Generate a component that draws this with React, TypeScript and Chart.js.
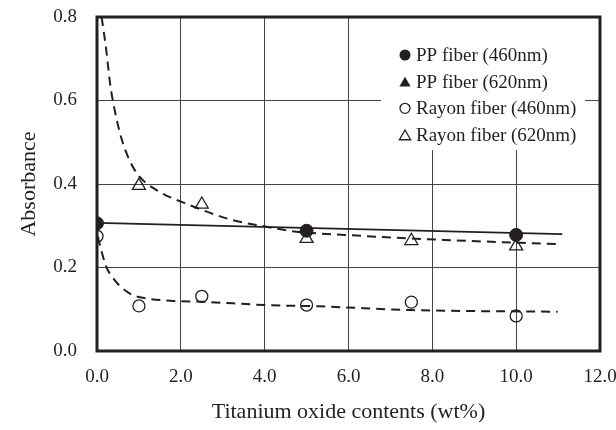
import React, { useEffect, useRef } from 'react';
import { Chart, registerables } from 'chart.js';

Chart.register(...registerables);

// ---- data ----
const ppX = [0, 5, 10];
const pp460 = [0.306, 0.288, 0.278];
const pp620 = [0.303, 0.285, 0.275];

const rayonX460 = [0, 1, 2.5, 5, 7.5, 10];
const rayon460 = [0.275, 0.108, 0.131, 0.11, 0.117, 0.084];

const rayonX620 = [1, 2.5, 5, 7.5, 10];
const rayon620 = [0.396, 0.351, 0.269, 0.264, 0.251];

// fitted trend curves
const fitPPX = [0, 11.1];
const fitPP = [0.307, 0.28];

const fitRayon460X = [0.02, 0.1, 0.22, 0.42, 0.61, 0.85, 1.17, 1.8, 2.51, 4.02, 5.3, 7.5, 10.99];
const fitRayon460 = [0.274, 0.242, 0.202, 0.17, 0.15, 0.134, 0.126, 0.12, 0.118, 0.11, 0.107, 0.098, 0.094];

const fitRayon620X = [0.11, 0.22, 0.31, 0.42, 0.57, 0.77, 1.01, 1.41, 2.2, 3.22, 4.02, 4.65, 5.92, 8.29, 11.03];
const fitRayon620 = [0.8, 0.722, 0.642, 0.578, 0.514, 0.458, 0.418, 0.386, 0.35, 0.314, 0.298, 0.287, 0.278, 0.266, 0.256];

const seriesLabels = ['PP fiber (460nm)', 'PP fiber (620nm)', 'Rayon fiber (460nm)', 'Rayon fiber (620nm)'];
const xTitle = 'Titanium oxide contents (wt%)';
const yTitle = 'Absorbance';
const xMin = 0, xMax = 12, xStep = 2;
const yMin = 0, yMax = 0.8, yStep = 0.2;

const INK = '#231f20';
const FONT = "'Liberation Serif', 'Times New Roman', serif";

const pts = (xs: number[], ys: number[]) => xs.map((x, i) => ({ x, y: ys[i] }));

function drawMarker(ctx: CanvasRenderingContext2D, style: string, filled: boolean, x: number, y: number, r: number) {
  ctx.beginPath();
  if (style === 'circle') {
    ctx.arc(x, y, r, 0, Math.PI * 2);
  } else {
    ctx.moveTo(x, y - r);
    ctx.lineTo(x + r * 0.866, y + r * 0.5);
    ctx.lineTo(x - r * 0.866, y + r * 0.5);
    ctx.closePath();
  }
  if (filled) {
    ctx.fillStyle = INK;
    ctx.fill();
  } else {
    ctx.lineWidth = 1.3;
    ctx.strokeStyle = INK;
    ctx.stroke();
  }
}

const frameAndLegend = {
  id: 'frameAndLegend',
  afterDatasetsDraw(chart: any) {
    const ctx: CanvasRenderingContext2D = chart.ctx;
    const a = chart.chartArea;
    ctx.save();
    // legend box (white, hides the grid behind it)
    ctx.fillStyle = '#ffffff';
    ctx.fillRect(381, a.top + 1, 204, 132);
    const rows = [55, 81.7, 108.3, 135];
    const styles = [
      { s: 'circle', f: true, r: 5.5 },
      { s: 'triangle', f: true, r: 6.5 },
      { s: 'circle', f: false, r: 5 },
      { s: 'triangle', f: false, r: 6.5 },
    ];
    ctx.font = `19px ${FONT}`;
    ctx.textBaseline = 'middle';
    ctx.textAlign = 'left';
    rows.forEach((y, i) => {
      const st = styles[i];
      drawMarker(ctx, st.s, st.f, 405, y + (st.s === 'triangle' ? 1.5 : 0), st.r);
      ctx.fillStyle = INK;
      ctx.fillText(seriesLabels[i], 416, y + 1);
    });
    // frame
    ctx.strokeStyle = INK;
    ctx.lineWidth = 3;
    ctx.strokeRect(a.left, a.top, a.right - a.left, a.bottom - a.top);
    ctx.restore();
  },
};

export default function App() {
  const ref = useRef<HTMLCanvasElement | null>(null);
  useEffect(() => {
    if (!ref.current) return;
    const chart = new Chart(ref.current, {
      type: 'scatter',
      data: {
        datasets: [
          {
            label: seriesLabels[0],
            data: pts(ppX, pp460),
            pointStyle: 'circle',
            pointRadius: 6.5,
            backgroundColor: INK,
            borderColor: INK,
            borderWidth: 1,
          },
          {
            label: seriesLabels[1],
            data: pts(ppX, pp620),
            pointStyle: 'triangle',
            pointRadius: 5.5,
            backgroundColor: INK,
            borderColor: INK,
            borderWidth: 1,
          },
          {
            label: seriesLabels[2],
            data: pts(rayonX460, rayon460),
            pointStyle: 'circle',
            pointRadius: 6,
            backgroundColor: 'rgba(0,0,0,0)',
            borderColor: INK,
            borderWidth: 1.3,
          },
          {
            label: seriesLabels[3],
            data: pts(rayonX620, rayon620),
            pointStyle: 'triangle',
            pointRadius: 7.5,
            backgroundColor: 'rgba(0,0,0,0)',
            borderColor: INK,
            borderWidth: 1.3,
          },
          {
            label: 'fit PP',
            data: pts(fitPPX, fitPP),
            showLine: true,
            pointRadius: 0,
            borderColor: INK,
            borderWidth: 1.8,
          },
          {
            label: 'fit Rayon 460',
            data: pts(fitRayon460X, fitRayon460),
            showLine: true,
            pointRadius: 0,
            borderColor: INK,
            borderWidth: 2,
            borderDash: [9, 6],
            cubicInterpolationMode: 'monotone',
          },
          {
            label: 'fit Rayon 620',
            data: pts(fitRayon620X, fitRayon620),
            showLine: true,
            pointRadius: 0,
            borderColor: INK,
            borderWidth: 2,
            borderDash: [9, 6],
            cubicInterpolationMode: 'monotone',
          },
        ] as any,
      },
      options: {
        animation: false,
        responsive: false,
        maintainAspectRatio: false,
        layout: { padding: { left: 0, top: 17, right: 16, bottom: 0 } },
        plugins: {
          legend: { display: false },
          tooltip: { enabled: false },
        },
        scales: {
          x: {
            type: 'linear',
            min: xMin,
            max: xMax,
            afterFit: (s: any) => {
              s.height = 79;
              s.paddingLeft = 0;
              s.paddingRight = 0;
            },
            ticks: {
              stepSize: xStep,
              padding: 15,
              color: INK,
              font: { family: FONT, size: 19 },
              callback: (v: any) => Number(v).toFixed(1),
            },
            grid: { color: '#444', lineWidth: 1, drawTicks: false },
            border: { display: false },
            title: {
              display: true,
              text: xTitle,
              color: INK,
              font: { family: FONT, size: 22 },
              padding: { top: 4, bottom: 5 },
            },
          },
          y: {
            type: 'linear',
            min: yMin,
            max: yMax,
            afterFit: (s: any) => {
              s.width = 97;
              s.paddingTop = 0;
              s.paddingBottom = 0;
            },
            ticks: {
              stepSize: yStep,
              padding: 20,
              color: INK,
              font: { family: FONT, size: 19 },
              callback: (v: any) => Number(v).toFixed(1),
            },
            grid: { color: '#444', lineWidth: 1, drawTicks: false },
            border: { display: false },
            title: {
              display: true,
              text: yTitle,
              color: INK,
              font: { family: FONT, size: 22 },
              padding: { top: 16, bottom: 0 },
            },
          },
        },
      } as any,
      plugins: [frameAndLegend],
    });
    return () => chart.destroy();
  }, []);

  return (
    <div style={{ position: 'absolute', left: 0, top: 0, width: 616, height: 430, background: '#fff' }}>
      <canvas ref={ref} width={616} height={430} style={{ width: 616, height: 430, display: 'block' }} />
    </div>
  );
}
